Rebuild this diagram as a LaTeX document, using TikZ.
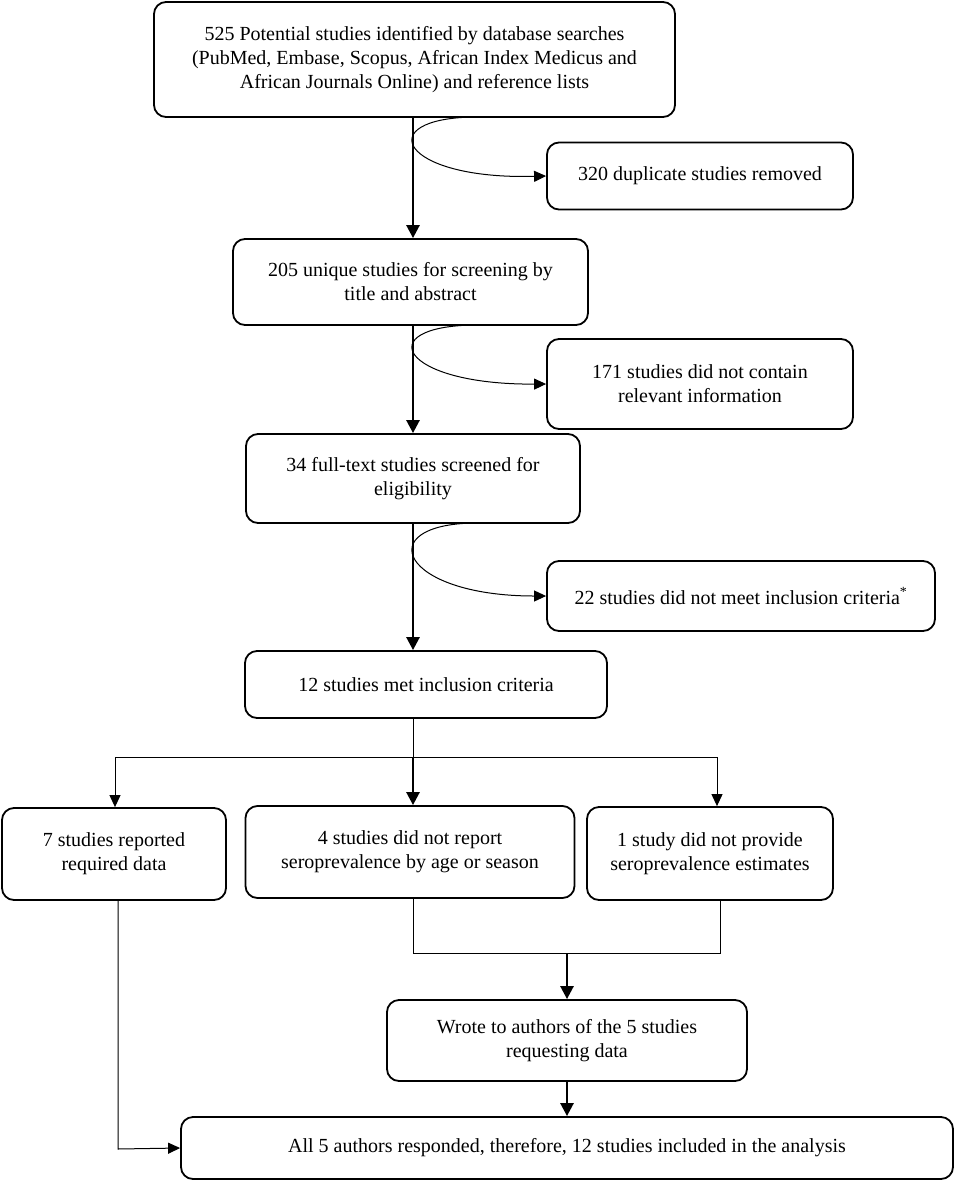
\documentclass[tikz,border=0pt]{standalone}
\usepackage{fontspec}
\setmainfont{Liberation Serif}
\usetikzlibrary{arrows.meta,calc}
\begin{document}
\begin{tikzpicture}[x=1pt,y=-1pt,
  box/.style={draw,line width=1.8pt,rounded corners=12pt,align=center,inner sep=2pt,
     font=\fontsize{20}{24}\selectfont},
  thin/.style={line width=1pt},
  thk/.style={line width=2.6pt},
  tip/.style={-{Triangle[length=12pt,width=11pt]}},
  tipb/.style={-{Triangle[length=13pt,width=13pt]}}]
\useasboundingbox (0,0) rectangle (957,1192);
\node[box,minimum width=521pt,minimum height=115pt] (b1) at (414.5,59.5)
 {525 Potential studies identified by database searches\\(PubMed, Embase, Scopus, African Index Medicus and\\African Journals Online) and reference lists};
\node[box,minimum width=306pt,minimum height=67pt] (b320) at (700,176) {320 duplicate studies removed};
\node[box,minimum width=355pt,minimum height=86pt] (b205) at (410.5,282) {205 unique studies for screening by\\title and abstract};
\node[box,minimum width=306pt,minimum height=90pt] (b171) at (700,384) {171 studies did not contain\\relevant information};
\node[box,minimum width=334pt,minimum height=89pt] (b34) at (413,478.5) {34 full-text studies screened for\\eligibility};
\node[box,minimum width=388pt,minimum height=70pt] (b22) at (741,596) {22 studies did not meet inclusion criteria\textsuperscript{*}};
\node[box,minimum width=362pt,minimum height=67pt] (b12) at (426,684.5) {12 studies met inclusion criteria};
\node[box,minimum width=224pt,minimum height=92pt] (b7) at (114,854) {7 studies reported\\required data};
\node[box,minimum width=329pt,minimum height=92pt] (b4) at (410,852) {4 studies did not report\\seroprevalence by age or season};
\node[box,minimum width=246pt,minimum height=93pt] (bone) at (710,853.5) {1 study did not provide\\seroprevalence estimates};
\node[box,minimum width=360pt,minimum height=81pt] (bw) at (567,1040.5) {Wrote to authors of the 5 studies\\requesting data};
\node[box,minimum width=772pt,minimum height=62pt] (bf) at (567,1148) {All 5 authors responded, therefore, 12 studies included in the analysis};
% helper coordinates
\coordinate (sx) at (413,0);
\coordinate (c1) at (475,117);
\coordinate (c2) at (475,325);
\coordinate (c3) at (475,523);
\coordinate (j1) at (413,757);
\coordinate (jl) at (115,757);
\coordinate (jr) at (717,757);
\coordinate (k1) at (413,953);
\coordinate (k2) at (720,953);
\coordinate (km) at (567,953);
\coordinate (l1) at (118,1149);
% main thick arrows
\draw[thk,tipb] (b1.south -| sx) -- (b205.north -| sx);
\draw[thk,tipb] (b205.south -| sx) -- (b34.north -| sx);
\draw[thk,tipb] (b34.south -| sx) -- (b12.north -| sx);
% curved side arrows
\draw[thin,tip] (c1) .. controls (370,118) and (400,180) .. (b320.west);
\draw[thin,tip] (c2) .. controls (370,326) and (400,385) .. (b171.west);
\draw[thin,tip] (c3) .. controls (370,524) and (400,596) .. (b22.west);
% branching
\draw[thin] (b12.south -| sx) -- (j1);
\draw[thin] (jl) -- (jr);
\draw[thin,tip] (jl) -- (b7.north -| jl);
\draw[thin,tip] (jr) -- (bone.north -| jr);
\draw[thk,tipb] (j1) -- (b4.north -| j1);
% merging
\draw[thin] (b4.south -| k1) -- (k1) -- (k2) -- (bone.south -| k2);
\draw[thk,tipb] (km) -- (bw.north -| km);
\draw[thk,tipb] (bw.south) -- (bf.north);
\draw[thin,tip] (b7.south -| l1) -- (l1) -- (bf.west);
\end{tikzpicture}
\end{document}
